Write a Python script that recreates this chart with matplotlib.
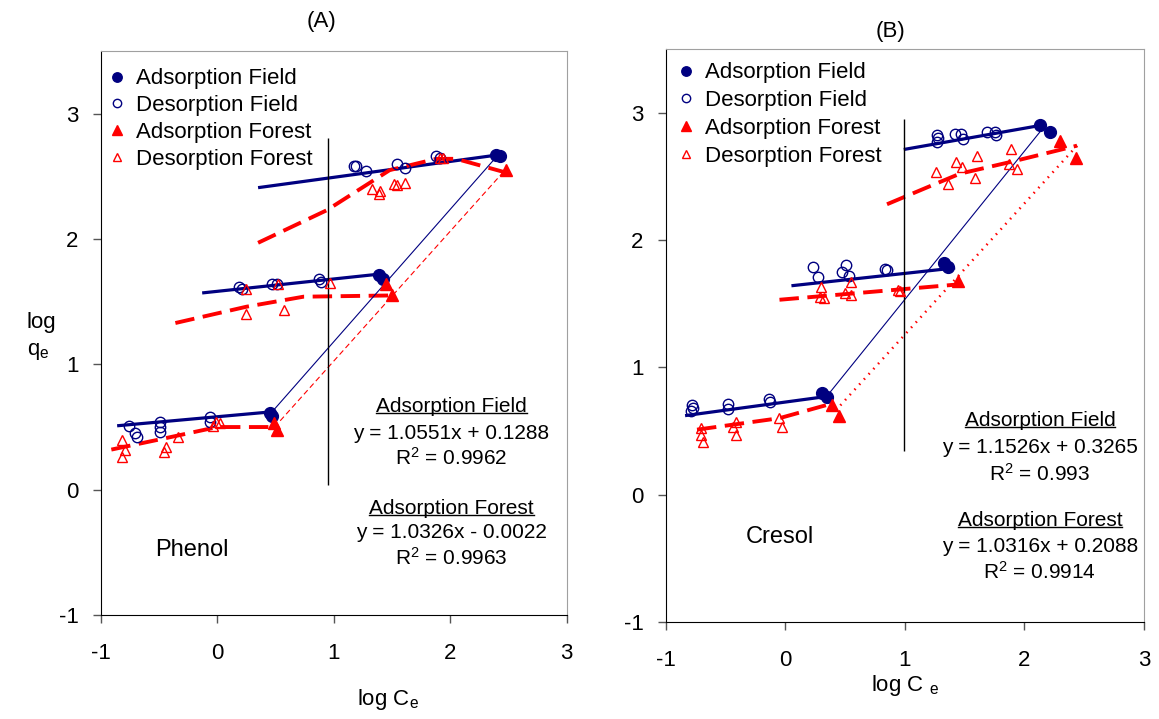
import matplotlib.pyplot as plt
from matplotlib.lines import Line2D

plt.rcParams["font.family"] = ["Liberation Sans", "DejaVu Sans"]
plt.rcParams["mathtext.fontset"] = "custom"
plt.rcParams["mathtext.rm"] = "Liberation Sans"
plt.rcParams["mathtext.it"] = "Liberation Sans:italic"
plt.rcParams["axes.unicode_minus"] = False

NAVY = "#000080"
RED = "#ff0000"

# ---- (A) Phenol ----
a_ads_field_x = [0.45, 0.47, 1.39, 1.42, 2.39, 2.43]
a_ads_field_y = [0.61, 0.59, 1.71, 1.68, 2.67, 2.66]
a_ads_forest_x = [0.49, 0.51, 1.45, 1.50, 2.48]
a_ads_forest_y = [0.53, 0.48, 1.64, 1.55, 2.55]
a_des_field_x = [-0.76, -0.71, -0.69, -0.49, -0.49, -0.49, -0.06, -0.06,
                 0.19, 0.21, 0.47, 0.51, 0.87, 0.89,
                 1.17, 1.19, 1.28, 1.54, 1.61, 1.88, 1.91]
a_des_field_y = [0.51, 0.45, 0.42, 0.54, 0.50, 0.46, 0.58, 0.54,
                 1.62, 1.60, 1.64, 1.64, 1.68, 1.66,
                 2.58, 2.58, 2.54, 2.60, 2.57, 2.66, 2.65]
a_des_forest_x = [-0.82, -0.79, -0.82, -0.44, -0.46, -0.34, -0.01, 0.02, -0.04,
                  0.25, 0.52, 0.97, 0.25, 0.57,
                  1.33, 1.39, 1.40, 1.52, 1.54, 1.61, 1.91, 1.94]
a_des_forest_y = [0.40, 0.32, 0.26, 0.34, 0.30, 0.42, 0.54, 0.53, 0.51,
                  1.60, 1.64, 1.65, 1.40, 1.43,
                  2.40, 2.36, 2.38, 2.44, 2.43, 2.45, 2.65, 2.65]
# desorption trend lines, one per branch
a_field_lines = [([-0.86, 0.45], [0.51, 0.62]),
                 ([-0.13, 1.39], [1.57, 1.72]),
                 ([0.35, 2.40], [2.41, 2.67])]
a_forest_lines = [([-0.91, -0.45, 0.0, 0.51], [0.32, 0.41, 0.50, 0.50]),
                  ([-0.36, 0.25, 0.74, 1.50], [1.33, 1.46, 1.54, 1.55]),
                  ([0.35, 0.94, 1.48, 1.88, 2.05, 2.48], [1.97, 2.23, 2.55, 2.64, 2.64, 2.53])]
# adsorption regression lines
a_field_fit = ([0.45, 2.40], [0.60, 2.66])
a_forest_fit = ([0.54, 2.48], [0.55, 2.56])
a_vline = (0.95, 0.04, 2.81)
a_eq_field = ["y = 1.0551x + 0.1288", "R$^2$ = 0.9962"]
a_eq_forest = ["y = 1.0326x - 0.0022", "R$^2$ = 0.9963"]

# ---- (B) Cresol ----
b_ads_field_x = [0.31, 0.35, 1.33, 1.36, 2.13, 2.21]
b_ads_field_y = [0.80, 0.77, 1.82, 1.79, 2.90, 2.85]
b_ads_forest_x = [0.39, 0.45, 1.44, 2.30, 2.43]
b_ads_forest_y = [0.70, 0.62, 1.68, 2.78, 2.64]
b_des_field_x = [-0.78, -0.77, -0.79, -0.48, -0.48, -0.14, -0.13,
                 0.23, 0.27, 0.47, 0.51, 0.53, 0.83, 0.85,
                 1.27, 1.28, 1.27, 1.42, 1.47, 1.49, 1.69, 1.75, 1.76]
b_des_field_y = [0.70, 0.68, 0.66, 0.71, 0.67, 0.75, 0.73,
                 1.79, 1.71, 1.75, 1.80, 1.72, 1.77, 1.76,
                 2.82, 2.80, 2.77, 2.83, 2.83, 2.79, 2.85, 2.85, 2.82]
b_des_forest_x = [-0.71, -0.71, -0.69, -0.41, -0.44, -0.41, -0.05, -0.03,
                  0.30, 0.29, 0.32, 0.50, 0.55, 0.55, 0.94, 0.96,
                  1.26, 1.36, 1.43, 1.48, 1.60, 1.59, 1.89, 1.87, 1.94]
b_des_forest_y = [0.52, 0.47, 0.41, 0.57, 0.53, 0.47, 0.60, 0.53,
                  1.63, 1.55, 1.54, 1.58, 1.67, 1.57, 1.61, 1.60,
                  2.53, 2.44, 2.61, 2.57, 2.66, 2.49, 2.71, 2.60, 2.56]
b_field_lines = [([-0.84, 0.34], [0.62, 0.77]),
                 ([0.05, 1.42], [1.64, 1.78]),
                 ([0.99, 2.14], [2.71, 2.90])]
b_forest_lines = [([-0.74, -0.05, 0.37], [0.51, 0.60, 0.71]),
                  ([-0.05, 1.44], [1.53, 1.65]),
                  ([0.85, 1.23, 1.46, 1.92, 2.44], [2.28, 2.43, 2.52, 2.62, 2.74])]
b_field_fit = ([0.37, 2.14], [0.80, 2.86])
b_forest_fit = ([0.42, 2.45], [0.66, 2.75])
b_vline = (0.99, 0.34, 2.95)
b_eq_field = ["y = 1.1526x + 0.3265", "R$^2$ = 0.993"]
b_eq_forest = ["y = 1.0316x + 0.2088", "R$^2$ = 0.9914"]

x_ticks = [-1, 0, 1, 2, 3]
y_ticks = [-1, 0, 1, 2, 3]


def draw_panel(ax, d):
    # trend lines first, markers on top
    for xs, ys in d["field_lines"]:
        ax.plot(xs, ys, color=NAVY, lw=2.3, solid_capstyle="butt")
    for xs, ys in d["forest_lines"]:
        ax.plot(xs, ys, color=RED, lw=2.8, dashes=(5, 2.2))
    ax.plot(*d["field_fit"], color=NAVY, lw=0.8)
    ax.plot(*d["forest_fit"], color=RED, lw=d["forest_fit_lw"], ls=d["forest_fit_ls"])
    vx, v0, v1 = d["vline"]
    ax.vlines(vx, v0, v1, color="black", lw=1)

    ax.plot(d["ads_field"][0], d["ads_field"][1], "o", color=NAVY, ms=8.5,
            ls="none", label="Adsorption Field")
    ax.plot(d["des_field"][0], d["des_field"][1], "o", mfc="none", mec=NAVY,
            mew=1, ms=7.5, ls="none", label="Desorption Field")
    ax.plot(d["ads_forest"][0], d["ads_forest"][1], "^", color=RED, ms=8.5,
            ls="none", label="Adsorption Forest")
    ax.plot(d["des_forest"][0], d["des_forest"][1], "^", mfc="none", mec=RED,
            mew=1, ms=7.5, ls="none", label="Desorption Forest")

    ax.set_xlim(-1, 3)
    ax.set_ylim(-1, 3.5)
    ax.set_xticks(x_ticks)
    ax.set_yticks(y_ticks)
    ax.tick_params(labelsize=16, direction="out", length=6, width=1, color="#555555")
    ax.tick_params(axis="y", pad=10)
    ax.tick_params(axis="x", pad=14)
    for s in ["top", "right"]:
        ax.spines[s].set_color("#a0a0a0")
    for s in ["left", "bottom"]:
        ax.spines[s].set_color("black")

    ax.legend(loc="upper left", bbox_to_anchor=d["leg_anchor"], frameon=False,
              fontsize=16, markerscale=0.8, handlelength=0.7, handletextpad=0.5,
              labelspacing=d["leg_space"], borderaxespad=0)
    ax.text(d["name_xy"][0], d["name_xy"][1], d["name"], fontsize=17,
            ha="center", va="center")

    ex, ey = d["eq_xy"]
    t1 = ax.text(ex, ey[0], "Adsorption Field", fontsize=15, ha="center", va="center")
    ax.text(ex, ey[1], d["eq_field"][0], fontsize=15, ha="center", va="center")
    ax.text(ex, ey[2], d["eq_field"][1], fontsize=15, ha="center", va="center")
    t2 = ax.text(ex, ey[3], "Adsorption Forest", fontsize=15, ha="center", va="center")
    ax.text(ex, ey[4], d["eq_forest"][0], fontsize=15, ha="center", va="center")
    ax.text(ex, ey[5], d["eq_forest"][1], fontsize=15, ha="center", va="center")
    return [t1, t2]


fig = plt.figure(figsize=(11.59, 7.19), dpi=100)
ax_a = fig.add_axes([0.087, 0.1446, 0.402, 0.7844])
ax_b = fig.add_axes([0.5746, 0.135, 0.4124, 0.797])

heads = []
heads += draw_panel(ax_a, dict(
    ads_field=(a_ads_field_x, a_ads_field_y), ads_forest=(a_ads_forest_x, a_ads_forest_y),
    des_field=(a_des_field_x, a_des_field_y), des_forest=(a_des_forest_x, a_des_forest_y),
    field_lines=a_field_lines, forest_lines=a_forest_lines,
    field_fit=a_field_fit, forest_fit=a_forest_fit, forest_fit_lw=0.8,
    forest_fit_ls=(0, (5, 3)), vline=a_vline, leg_anchor=(0.0, 0.985), leg_space=0.26,
    name="Phenol", name_xy=(-0.22, -0.48),
    eq_xy=(2.01, [0.666, 0.451, 0.252, -0.146, -0.345, -0.544]),
    eq_field=a_eq_field, eq_forest=a_eq_forest))
heads += draw_panel(ax_b, dict(
    ads_field=(b_ads_field_x, b_ads_field_y), ads_forest=(b_ads_forest_x, b_ads_forest_y),
    des_field=(b_des_field_x, b_des_field_y), des_forest=(b_des_forest_x, b_des_forest_y),
    field_lines=b_field_lines, forest_lines=b_forest_lines,
    field_fit=b_field_fit, forest_fit=b_forest_fit, forest_fit_lw=1.8,
    forest_fit_ls=(0, (0.6, 2.2)), vline=b_vline, leg_anchor=(0.008, 0.992), leg_space=0.31,
    name="Cresol", name_xy=(-0.05, -0.33),
    eq_xy=(2.13, [0.58, 0.37, 0.16, -0.20, -0.41, -0.61]),
    eq_field=b_eq_field, eq_forest=b_eq_forest))

ax_a.set_xlabel("log C$_\\mathrm{e}$", fontsize=16)
ax_a.xaxis.set_label_coords((388 - 100.8) / 466, -0.15)
ax_a.xaxis.label.set_va("center")
ax_b.set_xlabel("log C $_\\mathrm{e}$", fontsize=16, labelpad=2)
fig.text(27 / 1159, 0.531, "log\nq$_\\mathrm{e}$", fontsize=16, ha="left",
         va="center", linespacing=1.4)
fig.text(322 / 1159, 1 - 22 / 719, "(A)", fontsize=16, ha="center", va="center")
fig.text(890 / 1159, 1 - 32 / 719, "(B)", fontsize=16, ha="center", va="center")

# underline the equation headings
fig.canvas.draw()
renderer = fig.canvas.get_renderer()
for t in heads:
    bb = t.get_window_extent(renderer)
    yline = bb.y0 + 3
    fig.add_artist(Line2D([bb.x0 / fig.bbox.width, bb.x1 / fig.bbox.width],
                          [yline / fig.bbox.height, yline / fig.bbox.height],
                          transform=fig.transFigure, color="black", lw=1))

fig.savefig("out.png", dpi=100)
